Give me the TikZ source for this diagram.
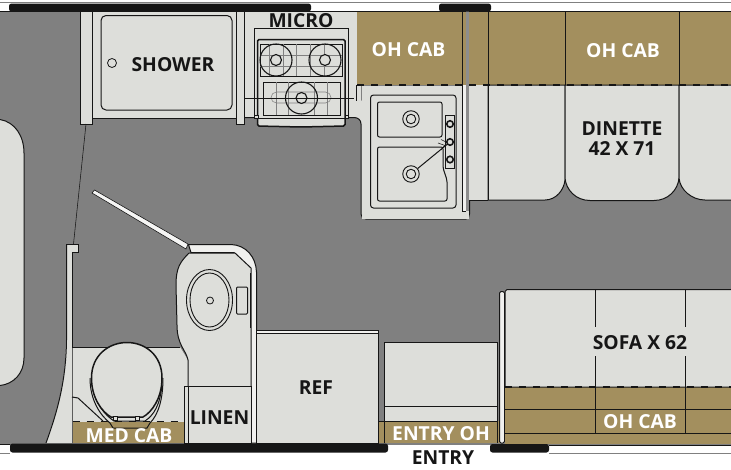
\documentclass[tikz,border=0pt]{standalone}
\usepackage{fontspec}
\usetikzlibrary{shapes.geometric}
\setmainfont{Open Sans}
\definecolor{floorc}{HTML}{808080}
\definecolor{lightc}{HTML}{DDDEDA}
\definecolor{tanc}{HTML}{A38F5E}
\definecolor{inkc}{HTML}{161616}
\tikzset{
  ln/.style={draw=inkc,line width=1pt},
  thin ln/.style={draw=inkc,line width=0.55pt},
  thick ln/.style={draw=inkc,line width=1.5pt},
  lt/.style={fill=lightc,ln},
  wht/.style={fill=white!55!lightc,ln},
  bar/.style={fill=inkc,rounded corners=2.5pt},
  blk/.style={font=\bfseries\fontsize{19.3}{20}\selectfont,text=inkc,inner sep=0pt,align=center},
  whl/.style={font=\bfseries\fontsize{19.3}{20}\selectfont,text=white,inner sep=0pt},
  dashln/.style={draw=inkc,line width=1.1pt,dash pattern=on 7pt off 7pt},
}
\begin{document}
\begin{tikzpicture}[x=1pt,y=-1pt]
\useasboundingbox (0,0) rectangle (731,469);
\fill[white] (0,0) rectangle (731,469);
% shell
\fill[floorc] (0,11) rectangle (731,445);
\draw[draw=gray,line width=1pt] (0,2.5) -- (731,2.5);
\draw[ln] (0,11) -- (731,11);
% left bed
\path[lt] (0,119.5) .. controls (15,122) and (24,136) .. (24,153) -- (24,358) .. controls (24,373) and (14,384) .. (0,385.5);
% galley base
\path[lt] (244,117.5) -- (354,117.5) .. controls (358,117.5) and (361,120) .. (361,124) -- (361,214) .. controls (361,217) and (363,219) .. (366,219) -- (466,219) .. controls (468,219) and (469.5,217) .. (469.5,214) -- (469.5,85);
\fill[lightc] (245,12) rectangle (360.5,117);
\fill[lightc] (361.5,86) rectangle (469,218.5);
% shower
\path[lt] (92,11) rectangle (236,118);
\path[lt] (80.5,11) rectangle (92,124);
\path[lt] (236.5,11) rectangle (244.5,124);
\path[lt,rounded corners=5pt] (101,15.5) rectangle (232,110);
\node[draw=inkc,line width=0.8pt,circle,minimum size=9pt,inner sep=0pt] (drain) at (112,63) {};
\node[blk] (shower) at (173,65) {SHOWER};
% overhead cabinets
\fill[tanc] (357,11.5) rectangle (731,85);
% dinette
\fill[lightc] (469,85) rectangle (488,200);
\path[lt] (488,85) -- (488,200) -- (545,200) .. controls (556,200) and (564,190) .. (565,180) -- (565,85) -- cycle;
\path[lt] (565,85) -- (565,178) .. controls (566,190) and (576,200.5) .. (590,200.5) -- (654,200.5) .. controls (668,200.5) and (678,190) .. (679,178) -- (679,85) -- cycle;
\path[lt] (731,200) -- (705,200) .. controls (692,200) and (680,190) .. (679,178) -- (679,85) -- (731,85);
\draw[ln] (469,200) -- (488,200);
\draw[ln] (488,11) -- (488,200);
\draw[ln] (565,11) -- (565,85);
\draw[ln] (679,11) -- (679,85);
\fill[tanc] (462.9,11.5) rectangle (465.8,85);
\fill[white!55!lightc] (462.9,85) rectangle (465.8,211);
\fill[floorc!90] (466,11) rectangle (469.3,211);
\draw[ln] (462.5,11) -- (462.5,211) -- (466,211);
\draw[dashln] (357,85) -- (731,85);
% top wall bars
\fill[bar] (9,3.5) rectangle (311,11.5);
\fill[bar] (439,3.5) rectangle (491,11.5);
% sink
\path[lt,rounded corners=3pt] (370.5,95) rectangle (456,208);
\path[lt,rounded corners=2pt] (377.5,102) rectangle (442,137);
\path[lt,rounded corners=2pt] (377.5,147) -- (443,147) -- (443,168) -- (447,180) -- (447,201) -- (377.5,201) -- cycle;
\path[lt] (445,115.5) rectangle (454,168.5);
\foreach \n/\y in {ka/124,kb/142,kc/159.5}{
  \node[draw=inkc,line width=1.6pt,circle,fill=lightc,minimum size=6.5pt,inner sep=0pt] (\n) at (450,\y) {};
}
\foreach \n/\y in {da/119,db/174}{
  \node[draw=inkc,line width=0.9pt,circle,fill=lightc,minimum size=16.5pt,inner sep=0pt] (\n) at (411,\y) {};
  \node[draw=inkc,line width=0.9pt,circle,minimum size=9.5pt,inner sep=0pt] at (411,\y) {};
}
\draw[ln] (kb) -- (db);
\draw[thin ln] (441,139.5) -- (446,142);
\draw[thin ln] (438,143) -- (445,145.5);
\draw[thin ln] (445,145) -- (441,150);
% stove
\path[lt,thin ln] (254,28.5) rectangle (348.5,118);
\path[lt,thick ln,rounded corners=1.5pt] (257.5,39.5) -- (345,39.5) -- (345,126) -- (301,127) -- (257.5,126) -- cycle;
\draw[ln] (257.5,118.5) -- (345,118.5);
\path[lt,thin ln] (254,115) rectangle (258,118);
\path[lt,thin ln] (345,115) rectangle (348.5,118);
\draw[thin ln] (260,44) rectangle (342,76);
\draw[thin ln] (263,82) rectangle (340,115);
\foreach \x in {269,283,296,310,324}{\draw[thin ln,draw=gray] (\x,44) -- (\x,76);}
\foreach \x in {276,288,314,327}{\draw[thin ln,draw=gray] (\x,82) -- (\x,115);}
\foreach \y in {55,66}{\draw[thin ln,draw=gray] (260,\y) -- (342,\y);}
\path[thin ln,draw=gray,rounded corners=5.5pt] (271,92) rectangle (331,103);
\foreach \n/\x/\y in {ba/276/60,bb/325/60,bc/301.5/98}{
  \node[draw=inkc,line width=1.1pt,circle,minimum size=32pt,inner sep=0pt] (\n) at (\x,\y) {};
  \node[draw=inkc,line width=1.1pt,circle,fill=lightc,minimum size=11pt,inner sep=0pt] at (\x,\y) {};
}
\draw[ln] (244.5,98) -- (354,98);
\draw[thin ln] (356.5,85) -- (356.5,101);
\node[blk] (micro) at (301,21) {MICRO};
\node[whl] (oh1) at (408.5,50) {OH CAB};
\node[whl] (oh2) at (623,50.5) {OH CAB};
\node[blk,font=\bfseries\fontsize{19.3}{20}\selectfont] (din) at (622,138.5) {DINETTE\\42 X 71};
% door
\path[draw=inkc,line width=0.6pt,fill=white!70!lightc] (92,193) -- (94.5,190) -- (188,244) -- (186,249) -- cycle;
\draw[thin ln] (86,124) -- (73.5,244);
% wall and bath floor
\fill[lightc] (66,252) -- (72,252) -- (72,443) -- (46,443) .. controls (58,410) and (66,380) .. (66,340) -- cycle;
\path[lt] (66.5,244) -- (78.5,244) -- (78.5,252) -- (72,252) -- (72,443);
\draw[ln] (66.5,244) -- (66.5,340) .. controls (66,380) and (58,410) .. (46,443);
\fill[lightc] (72.5,347) -- (180,347) -- (188,360) -- (188,443) -- (72.5,443) -- cycle;
\draw[thin ln] (72,347) -- (180,347);
\draw[ln] (72,397) -- (78,398) -- (103,421);
% vanity
\path[ln,fill=white!55!lightc] (188.5,244.5) -- (231,244.5) .. controls (246,245) and (256,257) .. (256.5,272) -- (256.5,443) -- (250,443) -- (250,270) -- (234,252.5) -- (191,252.5) -- cycle;
\path[lt] (189,253) -- (235,253) -- (251,268) -- (251,443) -- (188,443) -- (188,360) .. controls (186,350) and (177,345) .. (177,325) -- (176,285) .. controls (176,268) and (180,262) .. (189,253);
\draw[thick ln] (250.5,273) -- (250.5,328);
\node[draw=inkc,line width=0.9pt,ellipse,minimum width=46pt,minimum height=61pt,inner sep=0pt] (basin) at (209.5,300) {};
\node[draw=inkc,line width=0.9pt,ellipse,minimum width=39pt,minimum height=54pt,inner sep=0pt] at (209.5,300) {};
\node[draw=inkc,line width=0.8pt,circle,minimum size=7pt,inner sep=0pt] at (210,300.5) {};
\path[ln,rounded corners=1pt] (236.5,287) rectangle (247.5,314);
\path[fill=lightc,ln] (184,386) rectangle (188.5,443);
\path[lt] (188.5,386) rectangle (251,443);
\node[blk] (linen) at (219.5,418) {LINEN};
% med cabinet and toilet
\fill[tanc] (72.5,421.5) rectangle (184,443);
\draw[dashln,line width=0.9pt] (72.5,421.5) -- (184,421.5);
\draw[ln] (90,378) .. controls (90,400) and (100,415) .. (110,423) -- (113,428) -- (147,428) -- (150,423) .. controls (158,415) and (163,400) .. (163,378);
\draw[ln] (92,385) .. controls (96,405) and (105,415) .. (114,421) -- (145,421) .. controls (154,415) and (160,405) .. (162,385);
\path[lt,thick ln] (127,342.5) .. controls (145,342.5) and (162,355) .. (162,378) .. controls (162,398) and (152,412) .. (143,417) -- (111,417) .. controls (102,412) and (91.5,398) .. (91.5,378) .. controls (91.5,355) and (109,342.5) .. (127,342.5) -- cycle;
\path[lt,thin ln] (113,416) rectangle (117.5,420);
\path[lt,thin ln] (135,416) rectangle (139.5,420);
\node[whl] (med) at (129,436) {MED CAB};
% ref
\path[ln,fill=white!55!lightc] (256.5,330) rectangle (378,333);
\path[lt] (256.5,333) rectangle (378,443);
\node[blk] (ref) at (316,388) {REF};
% entry
\fill[tanc] (377.5,421) rectangle (500,443);
\draw[ln] (378,421) -- (378,443);
\path[lt] (384,342) rectangle (497.5,421);
\draw[ln] (384,406) -- (497.5,406);
\draw[ln] (384,421) -- (384,443);
\draw[ln] (497.5,421) -- (497.5,443);
\draw[dashln,line width=0.9pt] (378,421) -- (506,421);
\node[whl] (eoh) at (441,433.5) {ENTRY OH};
% sofa
\path[ln,fill=white!55!lightc,rounded corners=1.5pt] (499.5,291.5) -- (504.5,291.5) -- (504.5,443) -- (499.5,443) -- cycle;
\fill[tanc] (505,387) rectangle (731,444);
\path[lt] (731,289.5) -- (507,289.5) -- (505,291.5) -- (505,387) -- (731,387);
\draw[ln] (505,409) -- (731,409);
\draw[ln] (505,433) -- (731,433);
\draw[dashln] (505,387) -- (731,387);
\foreach \n/\x in {sa/595,sb/685}{
  \coordinate (\n t) at (\x,289.5);
  \coordinate (\n m) at (\x,327);
  \coordinate (\n n) at (\x,356);
  \coordinate (\n b) at (\x,433);
  \draw[ln] (\n t) -- (\n m);
  \draw[ln] (\n n) -- (\n b);
}
\node[blk] (sofa) at (640,343) {SOFA X 62};
\node[whl] (oh3) at (640,422) {OH CAB};
% bottom wall
\fill[white] (0,445) rectangle (731,452);
\draw[draw=gray,line width=1pt] (0,453) -- (10,453);
\draw[draw=gray,line width=1pt] (549,453) -- (731,453);
\draw[ln] (549,445) -- (731,445);
\draw[ln] (0,444.5) -- (10,444.5);
\fill[bar] (10,443.5) rectangle (388,452.5);
\fill[bar] (490,444) rectangle (549,452.5);
\node[blk] (entry) at (443,457.5) {ENTRY};
\end{tikzpicture}
\end{document}
